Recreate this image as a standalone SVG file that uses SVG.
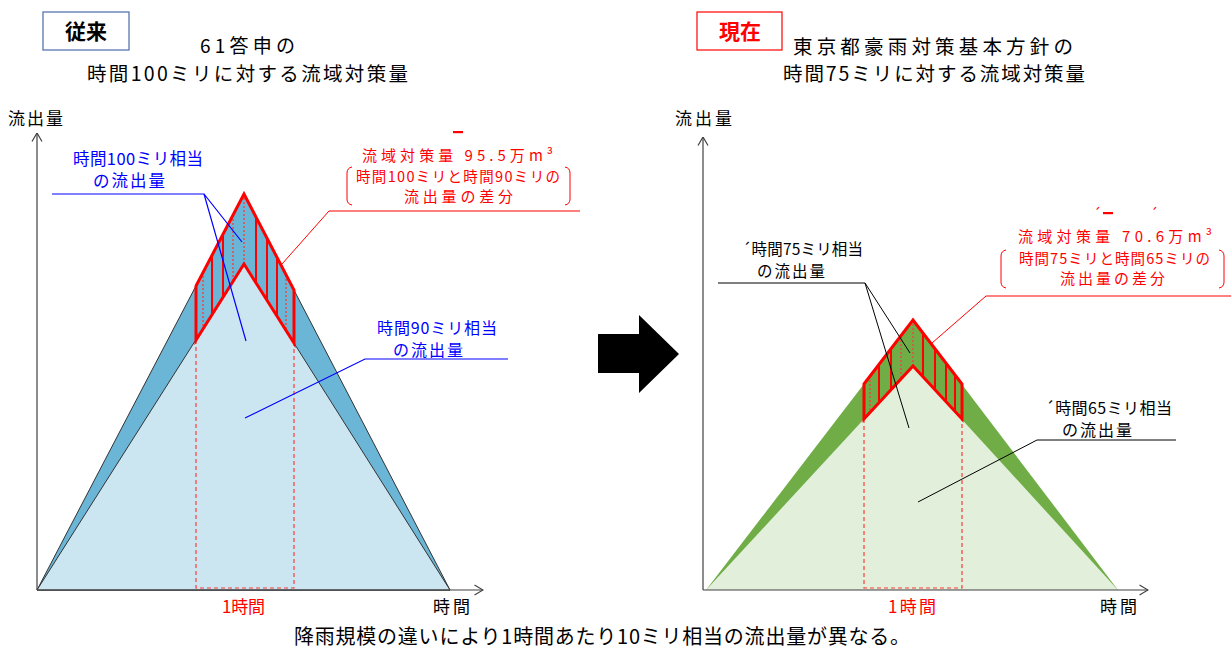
<svg xmlns="http://www.w3.org/2000/svg" width="1231" height="648" viewBox="0 0 1231 648">
<defs>
<style>
.jp{font-family:"Noto Sans CJK JP","Noto Sans",sans-serif}
.blk{fill:#000}
.red{fill:#ff0000}
.blue{fill:#0000ff}
.axis{stroke:#404040;stroke-width:1.2;fill:none}
.hatch{stroke:#ff0000;stroke-width:2}
.dot{stroke:#e64a4a;stroke-width:1.5;stroke-dasharray:2 2}
.dash{stroke:#ff3a3a;stroke-width:1.2;stroke-dasharray:4 3;fill:none}
.outline{fill:none;stroke:#ff0000;stroke-width:3;stroke-linejoin:miter}
.bl{stroke:#0000ff;stroke-width:1.2;fill:none}
.kl{stroke:#000;stroke-width:1;fill:none}
.rl{stroke:#ff0000;stroke-width:1;fill:none}
.brk{stroke:#ff0000;stroke-width:1;fill:none}
</style>
<marker id="open" viewBox="0 0 10 12" refX="9.5" refY="6" markerWidth="10" markerHeight="12" markerUnits="userSpaceOnUse" orient="auto">
<path d="M1,1 L9.5,6 L1,11" fill="none" stroke="#404040" stroke-width="1.2"/>
</marker>
</defs>
<rect width="1231" height="648" fill="#fff"/>

<!-- headers -->
<g id="hdr-left">
<rect x="43" y="12" width="86" height="38" fill="#fff" stroke="#4a6aa8" stroke-width="1.2"/>
<text class="jp blk" x="86" y="39" font-size="21" font-weight="bold" text-anchor="middle">従来</text>
<text class="jp blk" x="200" y="53" font-size="19" textLength="95" lengthAdjust="spacing">61答申の</text>
<text class="jp blk" x="87" y="81" font-size="19.5" textLength="321" lengthAdjust="spacing">時間100ミリに対する流域対策量</text>
</g>
<g id="hdr-right">
<rect x="697" y="12" width="85" height="38" fill="#fff" stroke="#ff0000" stroke-width="1.2"/>
<text class="jp red" x="740" y="39" font-size="21" font-weight="bold" text-anchor="middle">現在</text>
<text class="jp blk" x="793" y="54" font-size="19.5" textLength="280" lengthAdjust="spacing">東京都豪雨対策基本方針の</text>
<text class="jp blk" x="783" y="81" font-size="19.5" textLength="302" lengthAdjust="spacing">時間75ミリに対する流域対策量</text>
</g>

<!-- left chart -->
<g id="chart-left">
<polygon points="37,590 244,194 450,590" fill="#6bb6d7" stroke="#333" stroke-width="1"/>
<polygon points="37,590 244,264 450,590" fill="#cce6f1" stroke="#333" stroke-width="1"/>
<path class="dash" d="M196,340 V588 H294 V343"/>
<line class="dot" x1="203" y1="272" x2="203" y2="329"/>
<line class="hatch" x1="212" y1="255" x2="212" y2="314"/>
<line class="hatch" x1="223" y1="234" x2="223" y2="297"/>
<line class="dot" x1="233" y1="215" x2="233" y2="281"/>
<line class="dot" x1="244" y1="194" x2="244" y2="264"/>
<line class="hatch" x1="256" y1="217" x2="256" y2="283"/>
<line class="hatch" x1="267" y1="238" x2="267" y2="300"/>
<line class="hatch" x1="277" y1="257" x2="277" y2="316"/>
<line class="dot" x1="286" y1="275" x2="286" y2="330"/>
<polygon class="outline" points="196,286 244,194 294,290 294,343 244,264 196,340"/>
<line class="axis" x1="37" y1="590" x2="37" y2="133" marker-end="url(#open)"/>
<line class="axis" x1="37" y1="590" x2="483" y2="590" marker-end="url(#open)"/>
<text class="jp blk" x="8" y="125" font-size="17" textLength="55" lengthAdjust="spacing">流出量</text>
<text class="jp red" x="222" y="613" font-size="17" textLength="43" lengthAdjust="spacing">1時間</text>
<text class="jp blk" x="433" y="613" font-size="17" textLength="37" lengthAdjust="spacing">時間</text>
</g>

<!-- right chart -->
<g id="chart-right">
<polygon points="706,590 913,320 1118,590" fill="#70ad47"/>
<polygon points="706,590 913,366 1118,590" fill="#e2efda"/>
<path class="dash" d="M864,419 V588 H962 V419"/>
<line class="dot" x1="870" y1="376" x2="870" y2="412"/>
<line class="hatch" x1="879" y1="364" x2="879" y2="403"/>
<line class="hatch" x1="891" y1="349" x2="891" y2="390"/>
<line class="dot" x1="901" y1="336" x2="901" y2="379"/>
<line class="dot" x1="913" y1="320" x2="913" y2="366"/>
<line class="hatch" x1="923" y1="333" x2="923" y2="377"/>
<line class="hatch" x1="935" y1="349" x2="935" y2="390"/>
<line class="hatch" x1="946" y1="363" x2="946" y2="402"/>
<line class="hatch" x1="955" y1="375" x2="955" y2="412"/>
<polygon class="outline" points="864,384 913,320 962,384 962,419 913,366 864,419"/>
<line class="axis" x1="703" y1="590" x2="703" y2="137" marker-end="url(#open)"/>
<line class="axis" x1="703" y1="590" x2="1148" y2="590" marker-end="url(#open)"/>
<text class="jp blk" x="675" y="125" font-size="17" textLength="57" lengthAdjust="spacing">流出量</text>
<text class="jp red" x="888" y="613" font-size="17" textLength="48" lengthAdjust="spacing">1時間</text>
<text class="jp blk" x="1100" y="613" font-size="17" textLength="37" lengthAdjust="spacing">時間</text>
</g>

<!-- big arrow -->
<g id="arrow">
<polygon points="598,334 639,334 639,315 679,354 639,393 639,373 598,373" fill="#000"/>
</g>

<!-- labels -->
<g id="lbl-100">
<text class="jp blue" x="73" y="165" font-size="16.5" textLength="130" lengthAdjust="spacing">時間100ミリ相当</text>
<text class="jp blue" x="93" y="187" font-size="16.5" textLength="72" lengthAdjust="spacing">の流出量</text>
</g>
<g id="lbl-90">
<text class="jp blue" x="377" y="334" font-size="16" textLength="120" lengthAdjust="spacing">時間90ミリ相当</text>
<text class="jp blue" x="393" y="356" font-size="16" textLength="70" lengthAdjust="spacing">の流出量</text>
</g>
<g id="lbl-red-left">
<rect x="453" y="131" width="10" height="2.2" fill="#ff0000"/>
<text class="jp red" x="362" y="161" font-size="15" textLength="191" lengthAdjust="spacing">流域対策量  95.5万m³</text>
<text class="jp red" x="356" y="182" font-size="14.5" textLength="204" lengthAdjust="spacing">時間100ミリと時間90ミリの</text>
<text class="jp red" x="404" y="202" font-size="15" textLength="109" lengthAdjust="spacing">流出量の差分</text>
<path class="brk" d="M352,167 Q347,168 347,173 V199 Q347,204 352,205"/>
<path class="brk" d="M565,167 Q570,168 570,173 V199 Q570,204 565,205"/>
</g>
<g id="lbl-75">
<text class="jp blk" x="742" y="255" font-size="15.5" textLength="121" lengthAdjust="spacing">´時間75ミリ相当</text>
<text class="jp blk" x="757" y="277" font-size="15.5" textLength="68" lengthAdjust="spacing">の流出量</text>
</g>
<g id="lbl-65">
<text class="jp blk" x="1045" y="414" font-size="16" textLength="127" lengthAdjust="spacing">´時間65ミリ相当</text>
<text class="jp blk" x="1062" y="436" font-size="16" textLength="70" lengthAdjust="spacing">の流出量</text>
</g>
<g id="lbl-red-right">
<text class="jp red" x="1093" y="219" font-size="14">´</text>
<rect x="1103" y="212" width="10" height="2.2" fill="#ff0000"/>
<text class="jp red" x="1150" y="219" font-size="14">´</text>
<text class="jp red" x="1018" y="242" font-size="15" textLength="194" lengthAdjust="spacing">流域対策量  70.6万m³</text>
<text class="jp red" x="1019" y="264" font-size="14.5" textLength="191" lengthAdjust="spacing">時間75ミリと時間65ミリの</text>
<text class="jp red" x="1060" y="284" font-size="15" textLength="105" lengthAdjust="spacing">流出量の差分</text>
<path class="brk" d="M1006,250 Q1001,251 1001,256 V282 Q1001,287 1006,288"/>
<path class="brk" d="M1219,250 Q1224,251 1224,256 V282 Q1224,287 1219,288"/>
</g>
<g id="caption">
<text class="jp blk" x="294" y="644" font-size="20" textLength="616" lengthAdjust="spacing">降雨規模の違いにより1時間あたり10ミリ相当の流出量が異なる。</text>
</g>

<!-- connectors (leader lines) -->
<g id="connectors">
<path class="bl" d="M52,194 H204 L242,242 M204,194 L246,341"/>
<path class="bl" d="M508,359 H365 L245,418"/>
<path class="rl" d="M580,211 H329 L282,264"/>
<path class="kl" d="M718,283 H865 L910,353 M865,283 L909,428"/>
<path class="kl" d="M1176,440 H1037 L918,502"/>
<path class="rl" d="M1231,296 H986 L932,343"/>
</g>
</svg>
